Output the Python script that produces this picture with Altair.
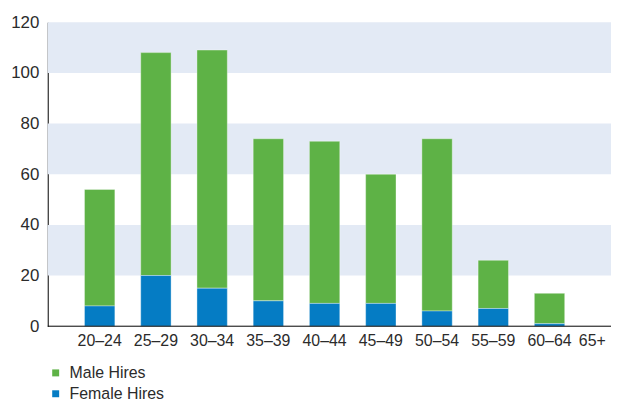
import altair as alt
import pandas as pd

categories = ["20–24", "25–29", "30–34", "35–39", "40–44", "45–49", "50–54", "55–59", "60–64", "65+"]
male_hires = [46, 88, 94, 64, 64, 51, 68, 19, 12, 0]
female_hires = [8, 20, 15, 10, 9, 9, 6, 7, 1, 0]
series = ["Male Hires", "Female Hires"]
colors = ["#5eb246", "#057cc4"]

band_start = [20, 60, 100]
band_end = [40, 80, 120]
y_ticks = [0, 20, 40, 60, 80, 100, 120]

rows = []
for i, c in enumerate(categories):
    rows.append({"age": c, "series": "Male Hires", "value": male_hires[i], "ord": 1})
    rows.append({"age": c, "series": "Female Hires", "value": female_hires[i], "ord": 0})
df = pd.DataFrame(rows)
bands = pd.DataFrame({"y0": band_start, "y1": band_end})
base_df = pd.DataFrame({"y": [0]})

FONT = "Liberation Sans"
W, H = 567, 306

yscale = alt.Scale(domain=[0, 120], nice=False)
yaxis = alt.Axis(
    title=None, values=y_ticks, ticks=False, grid=False, domainColor="#000000",
    domainWidth=1, labelFont=FONT, labelFontSize=17, labelColor="#2b2b2b",
    labelPadding=9,
)

bg = alt.Chart(bands).mark_rect(color="#e3eaf5").encode(
    x=alt.value(0), x2=alt.value(W),
    y=alt.Y("y0:Q", scale=yscale, axis=yaxis),
    y2="y1:Q",
)

bars = alt.Chart(df).mark_bar(stroke="white", strokeWidth=0.8, strokeOpacity=0.45).encode(
    x=alt.X(
        "age:N",
        sort=categories,
        scale=alt.Scale(range=[37, 577], paddingInner=0.46, paddingOuter=0),
        axis=alt.Axis(
            title=None, ticks=False, labelAngle=0, domain=False,
            labelFont=FONT, labelFontSize=16, labelColor="#2b2b2b", labelPadding=6,
            labelAlign=alt.condition("datum.value == '65+'", alt.value("right"), alt.value("center")),
        ),
    ),
    y=alt.Y("value:Q", stack="zero", scale=yscale, axis=yaxis),
    color=alt.Color(
        "series:N",
        scale=alt.Scale(domain=series, range=colors),
        legend=alt.Legend(
            title=None, orient="none", legendX=0, legendY=345, padding=0,
            symbolType="square", symbolSize=49, symbolStrokeWidth=0,
            labelFont=FONT, labelFontSize=16, labelColor="#2b2b2b",
            labelOffset=6, rowPadding=5,
        ),
    ),
    order=alt.Order("ord:Q"),
)

baseline = alt.Chart(base_df).mark_rule(color="#000000", strokeWidth=1).encode(
    x=alt.value(0), x2=alt.value(W),
    y=alt.Y("y:Q", scale=yscale, axis=yaxis),
)

chart = alt.layer(bg, bars, baseline).properties(
    width=W, height=H,
    autosize=alt.AutoSizeParams(type="none"),
    padding={"left": 40, "top": 13, "right": 0, "bottom": 78},
).configure_view(stroke=None)

chart.save("out.html", embed_options={"renderer": "svg", "actions": False})
